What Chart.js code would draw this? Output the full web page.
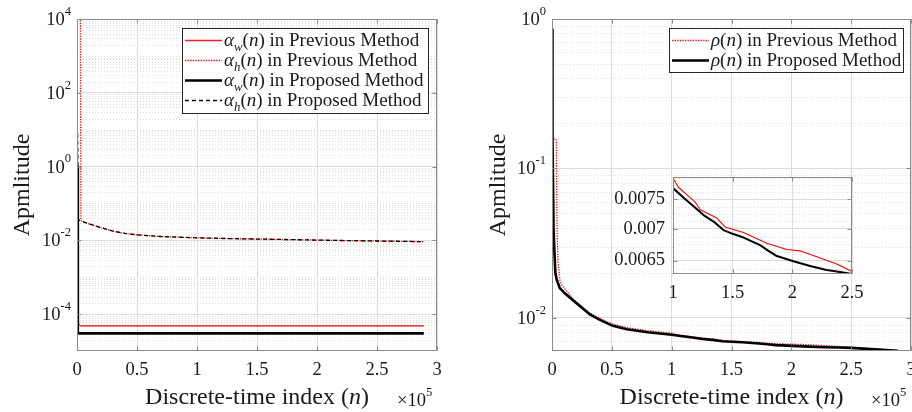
<!DOCTYPE html>
<html>
<head>
<meta charset="utf-8">
<script src="https://cdn.jsdelivr.net/npm/chart.js@4.4.1/dist/chart.umd.min.js"></script>
<style>
  body { margin: 0; background: #fff; width: 912px; height: 412px; overflow: hidden; position: relative; }
  .panel { position: absolute; }
</style>
</head>
<body>
<div class="panel" style="left:0;top:0;width:456px;height:412px;"><canvas id="leftChart"></canvas></div>
<div class="panel" style="left:456px;top:0;width:456px;height:412px;overflow:hidden;">
  <div style="width:476px;height:412px;position:relative;"><canvas id="rightChart"></canvas></div>
</div>
<div class="panel" style="left:613px;top:158px;width:260px;height:150px;"><canvas id="insetChart"></canvas></div>

<script>
// ---- data (n is the discrete-time index) ----

// left panel: step sizes
const nPrevAw = [0, 1500, 3000, 289000];
const prevAw  = [1.1e-4, 5.2e-5, 4.8e-5, 4.8e-5];

const nPrevAh = [0, 2800, 3300, 4000, 6000, 10000, 15000, 20000, 30000, 40000, 50000, 70000, 100000, 130000, 160000, 190000, 220000, 250000, 289000];
const prevAh  = [2e4, 2e4, 0.036, 0.033, 0.031, 0.028, 0.025, 0.022, 0.0178, 0.0154, 0.0141, 0.0127, 0.0117, 0.0111, 0.0107, 0.0103, 0.0099, 0.0096, 0.0092];

const nPropAw = [0, 700, 289000];
const propAw  = [1.0, 3.0e-5, 3.0e-5];

const nPropAh = [0, 500, 1200, 4000, 6000, 10000, 15000, 20000, 30000, 40000, 50000, 70000, 100000, 130000, 160000, 190000, 220000, 250000, 289000];
const propAh  = [12, 8, 0.036, 0.033, 0.031, 0.028, 0.025, 0.022, 0.0178, 0.0154, 0.0141, 0.0127, 0.0117, 0.0111, 0.0107, 0.0103, 0.0099, 0.0096, 0.0092];

// right panel: rho(n)
const nRhoPrev = [0, 300, 600, 3600, 4200, 5000, 6500, 8300, 12000, 17500, 25000, 32000, 40000, 50000, 62500, 80000, 100000, 104700, 111700, 118700, 122800, 136800, 143700, 159100, 178600, 195300, 206500, 220400, 237200, 249700, 270000, 289000];
const rhoPrev  = [0.85, 0.5, 0.16, 0.155, 0.04, 0.024, 0.018, 0.0165, 0.0152, 0.0134, 0.0119, 0.0107, 0.0099, 0.0091, 0.0086, 0.0082, 0.00788, 0.00771, 0.00758, 0.00745, 0.00732, 0.00718, 0.00703, 0.00694, 0.00677, 0.00667, 0.00665, 0.00656, 0.00645, 0.00634, 0.00617, 0.00604];

const nRhoProp = [0, 400, 1300, 2000, 2800, 4000, 6500, 10000, 17500, 25000, 32000, 40000, 50000, 62500, 80000, 100000, 108900, 117200, 125600, 134000, 142300, 150000, 159100, 173000, 180000, 187000, 200900, 214900, 228800, 240000, 250000, 270000, 289000];
const rhoProp  = [0.85, 0.16, 0.04, 0.028, 0.02, 0.018, 0.0158, 0.0148, 0.0131, 0.0117, 0.0105, 0.0097, 0.0089, 0.0084, 0.0080, 0.0077, 0.00753, 0.00738, 0.00723, 0.00712, 0.00698, 0.00692, 0.00686, 0.00674, 0.00665, 0.00657, 0.00649, 0.00642, 0.00636, 0.00633, 0.00630, 0.00615, 0.00603];

// ticks
const leftYTicks  = [1e-4, 1e-2, 1e0, 1e2, 1e4];
const rightYTicks = [1e-2, 1e-1, 1e0];
const insetYTicks = [0.0065, 0.007, 0.0075];
const insetMinorY = [0.006375, 0.006625, 0.00675, 0.006875, 0.007125, 0.00725, 0.007375, 0.007625, 0.00775, 0.007875];

// minor log grid: 2..9 x 10^k plus the skipped decades
function logMinor(lo, hi, major) {
  const out = [];
  for (let e = lo; e <= hi; e++) {
    for (let k = 1; k <= 9; k++) {
      const v = k * Math.pow(10, e);
      if (!major.some(m => Math.abs(m - v) / m < 1e-9)) out.push(v);
    }
  }
  return out;
}

const serif = "'Liberation Serif', 'Times New Roman', serif";
const textColor = '#1a1a1a';
const gridColor = '#dcdcdc';
const boxColor = '#8a8a8a';
const tickSize = 18.5;

function pts(xs, ys) { return xs.map((x, i) => ({ x: x, y: ys[i] })); }

// draws text made of upright/italic/sub/sup pieces, y is the baseline
function drawRich(ctx, segs, x, y, align, size) {
  const parts = segs.map(s => {
    const fs = (s.sub || s.sup) ? size * 0.68 : size;
    const font = (s.i ? 'italic ' : '') + fs + 'px ' + serif;
    ctx.font = font;
    return { t: s.t, font: font, w: ctx.measureText(s.t).width, dy: s.sub ? size * 0.24 : (s.sup ? -size * 0.55 : 0) };
  });
  const total = parts.reduce((a, p) => a + p.w, 0);
  let cx = align === 'center' ? x - total / 2 : (align === 'right' ? x - total : x);
  ctx.textAlign = 'left';
  ctx.textBaseline = 'alphabetic';
  parts.forEach(p => { ctx.font = p.font; ctx.fillText(p.t, cx, y + p.dy); cx += p.w; });
  return total;
}

// MATLAB-like axes dressing: minor grid, box, inward ticks, power labels, legend, titles
const decor = {
  id: 'decor',
  beforeDraw(chart, args, o) {
    if (!o.fillArea) return;
    const a = chart.chartArea, ctx = chart.ctx;
    ctx.save();
    ctx.fillStyle = '#fff';
    ctx.fillRect(a.left, a.top, a.right - a.left, a.bottom - a.top);
    ctx.restore();
  },
  beforeDatasetsDraw(chart, args, o) {
    const { ctx, chartArea: a } = chart;
    const y = chart.scales.y;
    ctx.save();
    ctx.strokeStyle = gridColor;
    ctx.lineWidth = 1;
    ctx.setLineDash([1, 2]);
    (o.minorY || []).forEach(v => {
      const py = Math.round(y.getPixelForValue(v)) + 0.5;
      if (py <= a.top || py >= a.bottom) return;
      ctx.beginPath(); ctx.moveTo(a.left, py); ctx.lineTo(a.right, py); ctx.stroke();
    });
    ctx.restore();
  },
  afterDatasetsDraw(chart, args, o) {
    const { ctx, chartArea: a } = chart;
    const xs = chart.scales.x, ys = chart.scales.y;
    const L = Math.round(a.left) + 0.5, R = Math.round(a.right) - 0.5;
    const T = Math.round(a.top) + 0.5, B = Math.round(a.bottom) - 0.5;
    ctx.save();
    // box and ticks
    ctx.strokeStyle = boxColor;
    ctx.lineWidth = 1;
    ctx.strokeRect(L, T, R - L, B - T);
    ctx.beginPath();
    xs.ticks.forEach(t => {
      const px = Math.round(xs.getPixelForValue(t.value)) + 0.5;
      ctx.moveTo(px, B); ctx.lineTo(px, B - 4);
      ctx.moveTo(px, T); ctx.lineTo(px, T + 4);
    });
    ys.ticks.forEach(t => {
      const py = Math.round(ys.getPixelForValue(t.value)) + 0.5;
      ctx.moveTo(L, py); ctx.lineTo(L + 4, py);
      ctx.moveTo(R, py); ctx.lineTo(R - 4, py);
    });
    ctx.stroke();

    ctx.fillStyle = textColor;
    // 10^k labels
    if (o.powerTicks) {
      o.powerTicks.forEach(v => {
        const py = ys.getPixelForValue(v);
        const e = String(Math.round(Math.log10(v)));
        drawRich(ctx, [{ t: '10' }, { t: e, sup: true }], a.left - 6, py + 6, 'right', tickSize);
      });
    }
    // axis titles
    if (o.xTitle) {
      drawRich(ctx, o.xTitle, (a.left + a.right) / 2, 404, 'center', 24);
      drawRich(ctx, [{ t: '\u00d710' }, { t: '5', sup: true }], o.multX, 406, 'left', tickSize);
    }
    if (o.yTitle) {
      ctx.save();
      ctx.translate(o.yTitleX, (a.top + a.bottom) / 2);
      ctx.rotate(-Math.PI / 2);
      drawRich(ctx, o.yTitle, 0, 0, 'center', 24);
      ctx.restore();
    }
    // legend
    if (o.legend) {
      const g = o.legend;
      ctx.fillStyle = '#fff';
      ctx.fillRect(g.x, g.y, g.w, g.h);
      ctx.strokeStyle = '#262626';
      ctx.lineWidth = 1;
      ctx.setLineDash([]);
      ctx.strokeRect(g.x + 0.5, g.y + 0.5, g.w, g.h);
      g.items.forEach((it, i) => {
        const base = Math.round(g.firstBase + i * g.rowStep);
        ctx.beginPath();
        ctx.strokeStyle = it.color;
        ctx.lineWidth = it.width;
        ctx.setLineDash(it.dash || []);
        ctx.moveTo(g.x + 3, base - 5.5); ctx.lineTo(g.x + 40, base - 5.5);
        ctx.stroke();
        ctx.fillStyle = textColor;
        drawRich(ctx, it.segs, g.x + 42, base, 'left', 19);
      });
    }
    ctx.restore();
  }
};

function xScale(min, max, height) {
  return {
    type: 'linear', min: min, max: max,
    ticks: { stepSize: 50000, autoSkip: false, maxRotation: 0, padding: 8, color: textColor,
             font: { family: serif, size: tickSize },
             callback: v => String(Math.round(v / 1e4) / 10) },
    grid: { color: gridColor, drawTicks: false },
    border: { display: false },
    afterFit: s => { s.height = height; }
  };
}

function logYScale(min, max, tickList, width, showLabels) {
  return {
    type: 'logarithmic', min: min, max: max,
    afterBuildTicks: s => { s.ticks = tickList.map(v => ({ value: v })); },
    ticks: { display: showLabels, padding: 8, color: textColor, font: { family: serif, size: tickSize },
             callback: v => String(v) },
    grid: { color: gridColor, drawTicks: false },
    border: { display: false },
    afterFit: s => { s.width = width; }
  };
}

const common = {
  responsive: true,
  maintainAspectRatio: false,
  animation: false,
  events: [],
  elements: { point: { radius: 0 }, line: { tension: 0, borderCapStyle: 'butt', borderJoinStyle: 'round' } }
};

const xTitleSegs = [{ t: 'Discrete-time index (' }, { t: 'n', i: true }, { t: ')' }];
const yTitleSegs = [{ t: 'Apmlitude' }];

// left panel
new Chart(document.getElementById('leftChart'), {
  type: 'line',
  data: {
    datasets: [
      { label: 'alpha_w previous', data: pts(nPrevAw, prevAw), borderColor: '#ff0000', borderWidth: 1.2, order: 4 },
      { label: 'alpha_h previous', data: pts(nPrevAh, prevAh), borderColor: '#ff0000', borderWidth: 1.3, borderDash: [1.3, 1.3], order: 3 },
      { label: 'alpha_w proposed', data: pts(nPropAw, propAw), borderColor: '#000000', borderWidth: 2.6, order: 2 },
      { label: 'alpha_h proposed', data: pts(nPropAh, propAh), borderColor: '#000000', borderWidth: 1.3, borderDash: [4, 3], order: 1 }
    ]
  },
  options: Object.assign({}, common, {
    layout: { padding: { left: 0, top: 19, right: 19, bottom: 0 } },
    scales: {
      x: xScale(0, 300000, 61),
      y: logYScale(1e-5, 1e4, leftYTicks, 77, false)
    },
    plugins: {
      legend: { display: false }, tooltip: { enabled: false },
      decor: {
        minorY: logMinor(-5, 3, leftYTicks),
        powerTicks: leftYTicks,
        xTitle: xTitleSegs, multX: 397,
        yTitle: yTitleSegs, yTitleX: 29,
        legend: {
          x: 182, y: 28, w: 246, h: 85, firstBase: 45.5, rowStep: 20.3,
          items: [
            { color: '#ff2020', width: 1.4, segs: [{ t: '\u03b1', i: true }, { t: 'w', i: true, sub: true }, { t: '(' }, { t: 'n', i: true }, { t: ') in Previous Method' }] },
            { color: '#ff0000', width: 1.3, dash: [1.3, 1.3], segs: [{ t: '\u03b1', i: true }, { t: 'h', i: true, sub: true }, { t: '(' }, { t: 'n', i: true }, { t: ') in Previous Method' }] },
            { color: '#000000', width: 2.6, segs: [{ t: '\u03b1', i: true }, { t: 'w', i: true, sub: true }, { t: '(' }, { t: 'n', i: true }, { t: ') in Proposed Method' }] },
            { color: '#000000', width: 1.3, dash: [4, 3], segs: [{ t: '\u03b1', i: true }, { t: 'h', i: true, sub: true }, { t: '(' }, { t: 'n', i: true }, { t: ') in Proposed Method' }] }
          ]
        }
      }
    }
  }),
  plugins: [decor]
});

// right panel
new Chart(document.getElementById('rightChart'), {
  type: 'line',
  data: {
    datasets: [
      { label: 'rho previous', data: pts(nRhoPrev, rhoPrev), borderColor: '#ff0000', borderWidth: 1.3, borderDash: [1.3, 1.3], order: 2 },
      { label: 'rho proposed', data: pts(nRhoProp, rhoProp), borderColor: '#000000', borderWidth: 2.6, order: 1 }
    ]
  },
  options: Object.assign({}, common, {
    layout: { padding: { left: 0, top: 19, right: 21, bottom: 0 } },
    scales: {
      x: xScale(0, 300000, 61),
      y: logYScale(0.006, 1, rightYTicks, 96, false)
    },
    plugins: {
      legend: { display: false }, tooltip: { enabled: false },
      decor: {
        minorY: logMinor(-3, -1, rightYTicks),
        powerTicks: rightYTicks,
        xTitle: xTitleSegs, multX: 415,
        yTitle: yTitleSegs, yTitleX: 49,
        legend: {
          x: 213, y: 28, w: 234, h: 44, firstBase: 45.5, rowStep: 20.5,
          items: [
            { color: '#ff0000', width: 1.3, dash: [1.3, 1.3], segs: [{ t: '\u03c1', i: true }, { t: '(' }, { t: 'n', i: true }, { t: ') in Previous Method' }] },
            { color: '#000000', width: 2.6, segs: [{ t: '\u03c1', i: true }, { t: '(' }, { t: 'n', i: true }, { t: ') in Proposed Method' }] }
          ]
        }
      }
    }
  }),
  plugins: [decor]
});

// inset zoom of the right panel
new Chart(document.getElementById('insetChart'), {
  type: 'line',
  data: {
    datasets: [
      { label: 'rho previous', data: pts(nRhoPrev, rhoPrev), borderColor: '#ff0000', borderWidth: 1.1, order: 2 },
      { label: 'rho proposed', data: pts(nRhoProp, rhoProp), borderColor: '#000000', borderWidth: 2.0, order: 1 }
    ]
  },
  options: Object.assign({}, common, {
    layout: { padding: { left: 0, top: 10, right: 21, bottom: 0 } },
    scales: {
      x: xScale(100000, 250000, 34),
      y: logYScale(0.0063, 0.0079, insetYTicks, 60, true)
    },
    plugins: {
      legend: { display: false }, tooltip: { enabled: false },
      decor: { fillArea: true, minorY: insetMinorY }
    }
  }),
  plugins: [decor]
});
</script>
</body>
</html>
